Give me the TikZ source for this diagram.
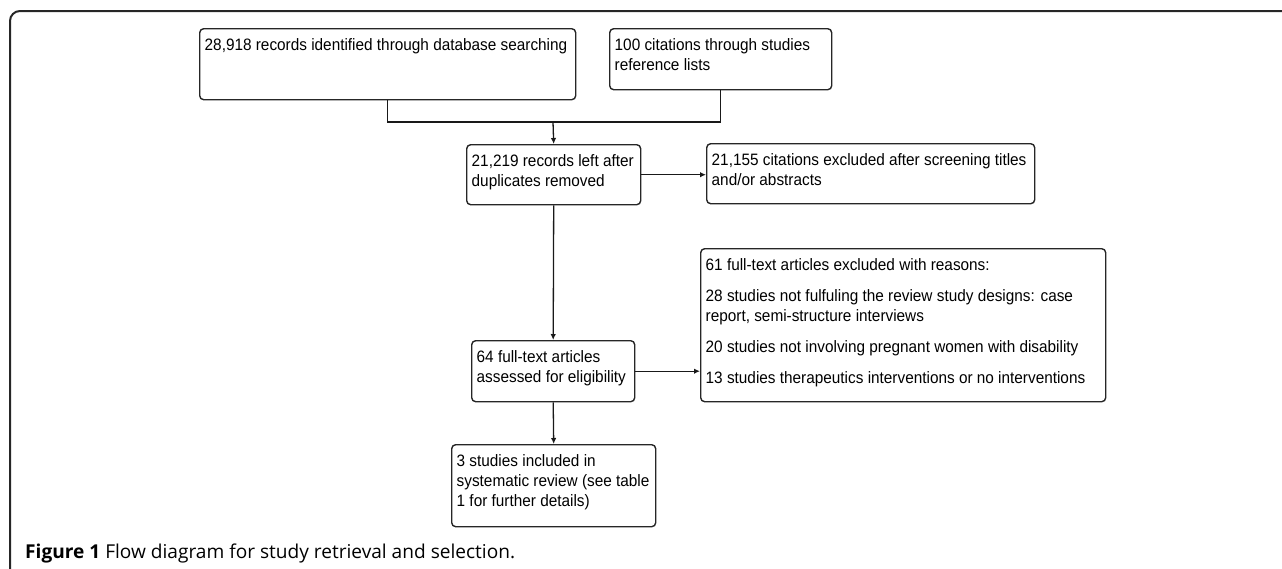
\documentclass[tikz,border=0pt]{standalone}
\usepackage{fontspec}
\setmainfont{Liberation Sans}
\newfontfamily\boxfont[FakeStretch=0.93]{Liberation Sans}
\newfontfamily\capfont{Open Sans}
\usetikzlibrary{arrows.meta}
\tikzset{
  flowbox/.style={draw=black!85, line width=1.4pt, rounded corners=4pt,
    inner xsep=5pt, inner ysep=0pt, anchor=north west,
    font=\boxfont\fontsize{16.5}{20}\selectfont},
  arr/.style={line width=1.3pt, draw=black!90, -{Latex[length=6pt,width=5.5pt]}},
  link/.style={line width=1.3pt, draw=black!90},
  frame/.style={line width=2pt, draw=black!85, rounded corners=10pt},
}
% name, x1, y1, x2, y2, text
\newcommand\flowbx[6]{%
  \node[flowbox] (#1) at (#2,#3)
    {\parbox[c][\dimexpr #5pt-#3pt\relax][t]{\dimexpr #4pt-#2pt-10pt\relax}%
      {\raggedright\rule{0pt}{22pt}#6}};}
\begin{document}
\begin{tikzpicture}[x=1pt,y=-1pt]
\useasboundingbox (0,0) rectangle (1282,568);
\draw[frame] (10,590) |- (1300,11);

\flowbx{b1}{199}{28}{575}{99}{28,918 records identified through database searching}
\flowbx{b2}{609}{28}{831}{89}{100 citations through studies\\reference lists}
\flowbx{b3}{466}{144}{640}{204}{21,219 records left after\\duplicates removed}
\flowbx{b4}{706}{143}{1034}{203}{21,155 citations excluded after screening titles\\and/or abstracts}
\flowbx{b5}{700}{248}{1105}{401}{\setlength{\parskip}{11pt}61 full-text articles excluded with reasons:\par
28 studies not fulfuling the review study designs: case\\report, semi-structure interviews\par
20 studies not involving pregnant women with disability\par
13 studies therapeutics interventions or no interventions}
\flowbx{b6}{471}{340}{634}{401}{64 full-text articles\\assessed for eligibility}
\flowbx{b7}{451}{444}{655}{526}{3 studies included in\\systematic review (see table\\1 for further details)}

\coordinate (j) at (553,122);
\draw[link] (b1.south) |- (j) -| (b2.south);
\draw[arr] (j) -- (b3.north);
\draw[arr] (b3.east) -- (b3.east -| b4.west);
\draw[arr] (b3.south) -- (b6.north);
\draw[arr] (b6.east) -- (b6.east -| b5.west);
\draw[arr] (b6.south) -- (b7.north);

\node[anchor=base west, inner sep=0pt, font=\capfont\fontsize{19.1}{20}\selectfont] (cap) at (25,558)
  {\textbf{Figure 1} Flow diagram for study retrieval and selection.};
\end{tikzpicture}
\end{document}
